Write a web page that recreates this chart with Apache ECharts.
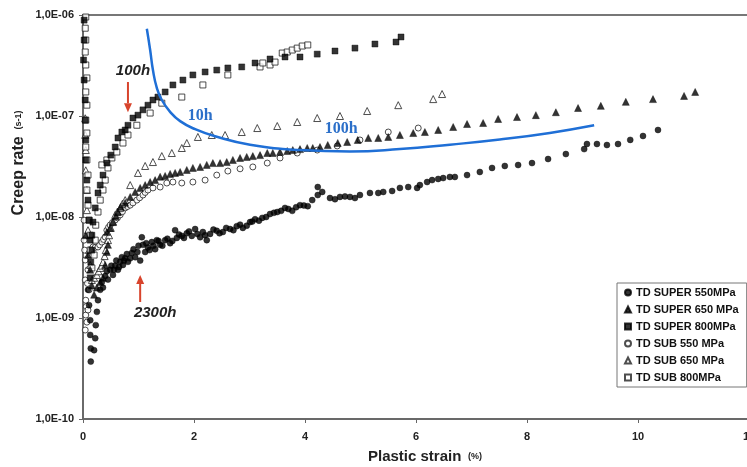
<!DOCTYPE html>
<html>
<head>
<meta charset="utf-8">
<script src="https://cdn.jsdelivr.net/npm/echarts@6/dist/echarts.min.js"></script>
<style>
  html, body { margin: 0; padding: 0; background: #fff; }
  #chart { width: 747px; height: 467px; }
</style>
</head>
<body>
<div id="chart"></div>
<script>
// Creep rate (s-1) versus plastic strain (%) for TD specimens, super- and sub-solvus
const SERIES_NAMES = ['TD SUPER 550MPa', 'TD SUPER 650 MPa', 'TD SUPER 800MPa', 'TD SUB 550 MPa', 'TD SUB 650 MPa', 'TD SUB 800MPa'];
const X_TICKS = [0, 2, 4, 6, 8, 10, 12];
const Y_TICKS = [1e-10, 1e-9, 1e-8, 1e-7, 1e-6];

const SUPER_550 = [[0.09,1.9e-9],[0.11,1.34e-9],[0.13,9.5e-10],[0.13,6.8e-10],[0.14,5.0e-10],[0.14,3.7e-10],[0.20,4.8e-10],[0.22,6.3e-10],[0.23,8.5e-10],[0.25,1.15e-9],[0.27,1.5e-9],[0.31,1.9e-9],[0.34,2.27e-9],[0.36,2.0e-9],[0.40,2.6e-9],[0.43,2.9e-9],[0.45,2.4e-9],[0.49,3.0e-9],[0.51,3.3e-9],[0.54,2.67e-9],[0.56,3.0e-9],[0.58,3.3e-9],[0.60,3.7e-9],[0.63,3.0e-9],[0.65,3.2e-9],[0.67,3.6e-9],[0.70,4.0e-9],[0.72,3.35e-9],[0.74,3.7e-9],[0.76,3.9e-9],[0.79,4.3e-9],[0.81,3.6e-9],[0.85,3.9e-9],[0.88,4.4e-9],[0.91,4.8e-9],[0.94,4.0e-9],[0.98,4.5e-9],[1.00,5.2e-9],[1.03,3.7e-9],[1.06,6.3e-9],[1.08,5.3e-9],[1.12,4.5e-9],[1.14,5.5e-9],[1.17,5.0e-9],[1.20,4.7e-9],[1.24,5.65e-9],[1.27,5.2e-9],[1.30,4.8e-9],[1.33,5.9e-9],[1.36,5.8e-9],[1.39,5.3e-9],[1.43,5.2e-9],[1.48,5.9e-9],[1.52,6.1e-9],[1.57,5.5e-9],[1.61,5.8e-9],[1.66,7.4e-9],[1.69,6.2e-9],[1.73,6.7e-9],[1.78,6.5e-9],[1.82,6.2e-9],[1.87,6.9e-9],[1.91,7.2e-9],[1.96,6.5e-9],[2.02,7.6e-9],[2.06,6.8e-9],[2.11,6.3e-9],[2.16,7.1e-9],[2.20,6.6e-9],[2.23,5.9e-9],[2.29,6.8e-9],[2.35,7.5e-9],[2.41,7.3e-9],[2.46,6.9e-9],[2.52,7.1e-9],[2.58,7.8e-9],[2.65,7.6e-9],[2.71,7.4e-9],[2.77,8.1e-9],[2.83,8.4e-9],[2.88,7.8e-9],[2.95,8.2e-9],[3.01,8.9e-9],[3.05,9.0e-9],[3.10,9.5e-9],[3.17,9.2e-9],[3.23,9.8e-9],[3.30,1.0e-8],[3.37,1.07e-8],[3.44,1.1e-8],[3.50,1.12e-8],[3.57,1.15e-8],[3.64,1.23e-8],[3.70,1.2e-8],[3.77,1.15e-8],[3.84,1.25e-8],[3.91,1.31e-8],[3.98,1.3e-8],[4.05,1.28e-8],[4.13,1.47e-8],[4.23,1.98e-8],[4.23,1.65e-8],[4.31,1.77e-8],[4.45,1.54e-8],[4.54,1.5e-8],[4.63,1.58e-8],[4.72,1.6e-8],[4.81,1.58e-8],[4.90,1.54e-8],[4.99,1.65e-8],[5.17,1.73e-8],[5.32,1.73e-8],[5.41,1.77e-8],[5.57,1.81e-8],[5.71,1.94e-8],[5.86,1.98e-8],[6.02,1.94e-8],[6.07,2.07e-8],[6.20,2.22e-8],[6.29,2.32e-8],[6.40,2.38e-8],[6.49,2.43e-8],[6.61,2.49e-8],[6.70,2.49e-8],[6.92,2.6e-8],[7.15,2.79e-8],[7.37,3.06e-8],[7.60,3.2e-8],[7.84,3.27e-8],[8.09,3.42e-8],[8.38,3.75e-8],[8.70,4.2e-8],[9.03,4.7e-8],[9.08,5.28e-8],[9.26,5.28e-8],[9.44,5.16e-8],[9.64,5.28e-8],[9.86,5.8e-8],[10.09,6.34e-8],[10.36,7.27e-8]];

const SUPER_650 = [[0.05,6.6e-9],[0.09,4.2e-9],[0.13,3.0e-9],[0.16,2.1e-9],[0.20,1.7e-9],[0.25,2.0e-9],[0.31,2.27e-9],[0.36,2.5e-9],[0.40,3.35e-9],[0.43,4.5e-9],[0.45,5.3e-9],[0.43,7.1e-9],[0.49,7.8e-9],[0.54,8.9e-9],[0.59,1.02e-8],[0.63,1.12e-8],[0.68,1.26e-8],[0.76,1.38e-8],[0.85,1.58e-8],[0.94,1.77e-8],[1.03,1.94e-8],[1.12,2.07e-8],[1.21,2.22e-8],[1.30,2.32e-8],[1.39,2.5e-8],[1.48,2.55e-8],[1.57,2.67e-8],[1.66,2.73e-8],[1.75,2.79e-8],[1.87,2.92e-8],[1.98,3.06e-8],[2.11,3.13e-8],[2.23,3.28e-8],[2.34,3.42e-8],[2.47,3.42e-8],[2.59,3.5e-8],[2.70,3.67e-8],[2.83,3.84e-8],[2.95,3.93e-8],[3.06,4.01e-8],[3.19,4.1e-8],[3.32,4.3e-8],[3.42,4.3e-8],[3.55,4.4e-8],[3.68,4.5e-8],[3.78,4.6e-8],[3.91,4.7e-8],[4.04,4.82e-8],[4.14,4.82e-8],[4.27,4.93e-8],[4.41,5.16e-8],[4.59,5.4e-8],[4.76,5.53e-8],[4.95,5.79e-8],[5.14,6.06e-8],[5.32,6.06e-8],[5.50,6.2e-8],[5.71,6.48e-8],[5.95,6.78e-8],[6.16,6.94e-8],[6.40,7.27e-8],[6.67,7.78e-8],[6.92,8.33e-8],[7.21,8.52e-8],[7.48,9.34e-8],[7.82,9.77e-8],[8.16,1.02e-7],[8.52,1.09e-7],[8.92,1.2e-7],[9.33,1.26e-7],[9.78,1.38e-7],[10.27,1.47e-7],[10.83,1.58e-7],[11.03,1.73e-7]];

const SUPER_800 = [[0.02,8.9e-7],[0.02,5.65e-7],[0.01,3.58e-7],[0.02,2.27e-7],[0.04,1.44e-7],[0.04,9.1e-8],[0.05,5.8e-8],[0.05,3.67e-8],[0.07,2.32e-8],[0.09,1.47e-8],[0.11,9.3e-9],[0.13,5.9e-9],[0.14,3.58e-9],[0.13,2.5e-9],[0.16,4.7e-9],[0.16,6.6e-9],[0.18,8.9e-9],[0.22,1.23e-8],[0.27,1.73e-8],[0.31,2.07e-8],[0.36,2.6e-8],[0.43,3.42e-8],[0.50,4.1e-8],[0.58,4.93e-8],[0.63,6.06e-8],[0.70,6.94e-8],[0.76,7.27e-8],[0.81,8.1e-8],[0.90,9.55e-8],[0.99,1.02e-7],[1.08,1.15e-7],[1.17,1.28e-7],[1.26,1.44e-7],[1.35,1.54e-7],[1.48,1.73e-7],[1.62,2.03e-7],[1.80,2.27e-7],[1.98,2.55e-7],[2.20,2.73e-7],[2.41,2.85e-7],[2.61,2.99e-7],[2.86,3.06e-7],[3.10,3.35e-7],[3.37,3.67e-7],[3.64,3.84e-7],[3.91,3.84e-7],[4.22,4.1e-7],[4.54,4.4e-7],[4.90,4.7e-7],[5.26,5.16e-7],[5.64,5.4e-7],[5.73,6.06e-7]];

const SUB_550 = [[0.02,9.3e-9],[0.02,5.9e-9],[0.03,4.7e-9],[0.04,3.75e-9],[0.04,2.38e-9],[0.05,1.5e-9],[0.05,1.07e-9],[0.04,7.6e-10],[0.06,1.3e-9],[0.07,9.1e-10],[0.09,1.2e-9],[0.08,2.2e-9],[0.11,1.9e-9],[0.09,3.0e-9],[0.13,4.2e-9],[0.14,4.6e-9],[0.18,5.05e-9],[0.22,5.0e-9],[0.27,5.05e-9],[0.30,5.3e-9],[0.34,5.65e-9],[0.37,6.0e-9],[0.40,6.34e-9],[0.43,7.4e-9],[0.46,7.9e-9],[0.49,8.33e-9],[0.53,8.8e-9],[0.58,9.34e-9],[0.62,9.8e-9],[0.67,1.05e-8],[0.71,1.13e-8],[0.76,1.23e-8],[0.80,1.27e-8],[0.85,1.31e-8],[0.90,1.38e-8],[0.97,1.47e-8],[1.02,1.55e-8],[1.08,1.65e-8],[1.12,1.75e-8],[1.17,1.85e-8],[1.26,1.94e-8],[1.39,1.98e-8],[1.51,2.17e-8],[1.62,2.22e-8],[1.78,2.17e-8],[1.98,2.22e-8],[2.20,2.32e-8],[2.41,2.6e-8],[2.61,2.85e-8],[2.83,3.0e-8],[3.06,3.13e-8],[3.32,3.42e-8],[3.55,3.84e-8],[3.86,4.3e-8],[4.22,4.6e-8],[4.58,5.05e-8],[4.99,5.79e-8],[5.50,6.94e-8],[6.04,7.6e-8]];

const SUB_650 = [[0.04,9.5e-8],[0.04,6.5e-8],[0.05,4.6e-8],[0.05,2.9e-8],[0.07,1.85e-8],[0.07,1.17e-8],[0.09,7.4e-9],[0.11,4.7e-9],[0.13,3.35e-9],[0.16,2.38e-9],[0.20,2.5e-9],[0.25,2.67e-9],[0.28,2.9e-9],[0.31,3.13e-9],[0.34,3.3e-9],[0.36,3.58e-9],[0.39,4.1e-9],[0.41,4.7e-9],[0.45,5.9e-9],[0.47,6.6e-9],[0.50,7.8e-9],[0.54,9.0e-9],[0.58,1.05e-8],[0.62,1.13e-8],[0.67,1.23e-8],[0.71,1.35e-8],[0.76,1.47e-8],[0.85,2.07e-8],[0.99,2.73e-8],[1.12,3.2e-8],[1.26,3.5e-8],[1.42,4.01e-8],[1.60,4.3e-8],[1.78,4.82e-8],[1.87,5.4e-8],[2.07,6.2e-8],[2.32,6.48e-8],[2.56,6.48e-8],[2.86,6.94e-8],[3.14,7.6e-8],[3.50,7.96e-8],[3.86,8.72e-8],[4.22,9.55e-8],[4.63,1.0e-7],[5.12,1.12e-7],[5.68,1.28e-7],[6.31,1.47e-7],[6.47,1.65e-7]];

const SUB_800 = [[0.05,9.55e-7],[0.04,7.4e-7],[0.05,5.65e-7],[0.04,4.3e-7],[0.05,3.2e-7],[0.07,2.38e-7],[0.05,1.73e-7],[0.07,1.28e-7],[0.05,9.1e-8],[0.07,6.78e-8],[0.05,4.93e-8],[0.07,3.67e-8],[0.09,2.6e-8],[0.07,1.85e-8],[0.09,1.31e-8],[0.11,9.3e-9],[0.13,6.6e-9],[0.13,4.7e-9],[0.16,3.13e-9],[0.20,4.2e-9],[0.22,5.9e-9],[0.23,8.3e-9],[0.27,1.12e-8],[0.31,1.47e-8],[0.36,1.85e-8],[0.40,2.32e-8],[0.45,3.06e-8],[0.34,3.28e-8],[0.43,3.67e-8],[0.52,3.84e-8],[0.61,4.4e-8],[0.72,5.4e-8],[0.81,6.48e-8],[0.97,8.1e-8],[1.21,1.07e-7],[1.42,1.34e-7],[1.78,1.54e-7],[2.16,2.03e-7],[2.61,2.55e-7],[3.19,3.06e-7],[3.24,3.35e-7],[3.37,3.2e-7],[3.46,3.42e-7],[3.59,4.2e-7],[3.68,4.3e-7],[3.77,4.5e-7],[3.86,4.7e-7],[3.95,4.93e-7],[4.05,5.05e-7]];

// hand-drawn guide curve crossing the 10h and 100h points
const GUIDE_CURVE = [[1.15,7.3e-7],[1.21,4.5e-7],[1.26,2.85e-7],[1.33,1.9e-7],[1.42,1.44e-7],[1.57,1.1e-7],[1.75,8.9e-8],[2.02,7.4e-8],[2.38,6.3e-8],[3.01,5.2e-8],[3.91,4.6e-8],[4.81,4.45e-8],[5.71,4.7e-8],[6.61,5.2e-8],[7.51,5.85e-8],[8.41,6.8e-8],[9.21,8.1e-8]];

// annotation anchors in data units: [x, rate]
const ARROW_100H = [[0.81, 2.17e-7], [0.81, 1.09e-7]];
const ARROW_2300H = [[1.03, 1.44e-9], [1.03, 2.67e-9]];
const TEXT_100H = [0.90, 2.79e-7];
const TEXT_2300H = [1.30, 1.12e-9];
const TEXT_BLUE_10H = [2.11, 1.0e-7];
const TEXT_BLUE_100H = [4.65, 7.4e-8];

const chart = echarts.init(document.getElementById('chart'), null, { renderer: 'canvas' });

const FONT = '"Liberation Sans", Arial, sans-serif';

function fmtRate(v) {
  const e = Math.round(Math.log10(v));
  const a = Math.abs(e);
  return '1,0E' + (e < 0 ? '-' : '+') + (a < 10 ? '0' + a : '' + a);
}

function scatter(name, data, symbol, size, filled) {
  return {
    name: name,
    type: 'scatter',
    data: data,
    symbol: symbol,
    symbolSize: size,
    itemStyle: filled
      ? { color: '#000', borderColor: '#000', borderWidth: 0.5 }
      : { color: '#fff', borderColor: '#222', borderWidth: 1 },
    emphasis: { disabled: true },
    z: filled ? 3 : 2
  };
}

const option = {
  animation: false,
  backgroundColor: '#fff',
  grid: {
    left: 83, top: 15, width: 666, height: 404,
    containLabel: false, outerBoundsMode: 'none',
    show: true, borderColor: '#777', borderWidth: 2, backgroundColor: 'transparent'
  },
  xAxis: {
    type: 'value', min: X_TICKS[0], max: X_TICKS[X_TICKS.length - 1], interval: 2,
    axisLine: { show: true, lineStyle: { color: '#666', width: 1.5 } },
    axisTick: { show: true, length: 4, lineStyle: { color: '#666' } },
    splitLine: { show: false },
    axisLabel: { fontFamily: FONT, fontWeight: 'bold', fontSize: 11, color: '#222', margin: 12, showMaxLabel: true }
  },
  yAxis: {
    type: 'log', logBase: 10, min: Y_TICKS[0], max: Y_TICKS[Y_TICKS.length - 1],
    axisLine: { show: true, lineStyle: { color: '#666', width: 1.5 } },
    axisTick: { show: true, length: 4, lineStyle: { color: '#666' } },
    splitLine: { show: false },
    minorTick: { show: false },
    axisLabel: { fontFamily: FONT, fontWeight: 'bold', fontSize: 11, color: '#222', margin: 9, formatter: fmtRate }
  },
  legend: {
    data: SERIES_NAMES,
    orient: 'vertical', left: 617, top: 283,
    padding: [3, 8, 3, 7],
    itemWidth: 6, itemHeight: 6, itemGap: 4,
    borderColor: '#777', borderWidth: 1, backgroundColor: '#fff',
    textStyle: { fontFamily: FONT, fontWeight: 'bold', fontSize: 11, lineHeight: 13, color: '#111' },
    selectedMode: false
  },
  series: [
    scatter(SERIES_NAMES[3], SUB_550, 'circle', 6, false),
    scatter(SERIES_NAMES[4], SUB_650, 'triangle', 7, false),
    scatter(SERIES_NAMES[5], SUB_800, 'rect', 6, false),
    scatter(SERIES_NAMES[0], SUPER_550, 'circle', 6, true),
    scatter(SERIES_NAMES[1], SUPER_650, 'triangle', 7, true),
    scatter(SERIES_NAMES[2], SUPER_800, 'rect', 6, true),
    {
      name: 'guide', type: 'line', data: GUIDE_CURVE, smooth: 0.5,
      showSymbol: false, symbol: 'none',
      lineStyle: { color: '#1f6fd6', width: 2.5 }, z: 5, emphasis: { disabled: true }
    }
  ],
  graphic: []
};

chart.setOption(option);

// annotations placed through the chart's own coordinate system
function px(p) { return chart.convertToPixel({ gridIndex: 0 }, p); }

function arrow(from, to, color) {
  const a = px(from), b = px(to);
  const ang = Math.atan2(b[1] - a[1], b[0] - a[0]);
  const L = 9, W = 4;
  const bx = b[0] - L * Math.cos(ang), by = b[1] - L * Math.sin(ang);
  return [
    { type: 'line', shape: { x1: a[0], y1: a[1], x2: bx, y2: by }, style: { stroke: color, lineWidth: 2 }, z: 10 },
    { type: 'polygon', shape: { points: [[b[0], b[1]], [bx - W * Math.sin(ang), by + W * Math.cos(ang)], [bx + W * Math.sin(ang), by - W * Math.cos(ang)]] }, style: { fill: color }, z: 10 }
  ];
}

function label(p, text, style) {
  const q = px(p);
  return { type: 'text', x: q[0], y: q[1], z: 11, style: Object.assign({ text: text, align: 'center', verticalAlign: 'middle' }, style) };
}

const RED = '#d8442c';
const g = [];
g.push(...arrow(ARROW_100H[0], ARROW_100H[1], RED));
g.push(...arrow(ARROW_2300H[0], ARROW_2300H[1], RED));
g.push(label(TEXT_100H, '100h', { font: 'italic bold 15px ' + FONT, fill: '#222' }));
g.push(label(TEXT_2300H, '2300h', { font: 'italic bold 15px ' + FONT, fill: '#222' }));
g.push(label(TEXT_BLUE_10H, '10h', { font: 'bold 16px "Liberation Serif", "Times New Roman", serif', fill: '#2b6fc9' }));
g.push(label(TEXT_BLUE_100H, '100h', { font: 'bold 16px "Liberation Serif", "Times New Roman", serif', fill: '#2b6fc9' }));

// axis titles
g.push({
  type: 'text', x: 425, y: 457, z: 11,
  style: {
    text: '{a|Plastic strain}  {b|(%)}', align: 'center', verticalAlign: 'middle',
    rich: {
      a: { fontFamily: FONT, fontSize: 15, fill: '#222', fontWeight: 'bold' },
      b: { fontFamily: FONT, fontSize: 9, fill: '#222', fontWeight: 'bold' }
    }
  }
});
g.push({
  type: 'text', x: 19, y: 163, rotation: Math.PI / 2, z: 11,
  style: {
    text: '{a|Creep rate}  {b|(s-1)}', align: 'center', verticalAlign: 'middle',
    rich: {
      a: { fontFamily: FONT, fontSize: 16, fill: '#222', fontWeight: 'bold' },
      b: { fontFamily: FONT, fontSize: 9, fill: '#222', fontWeight: 'bold' }
    }
  }
});

chart.setOption({ graphic: g });
</script>
</body>
</html>
